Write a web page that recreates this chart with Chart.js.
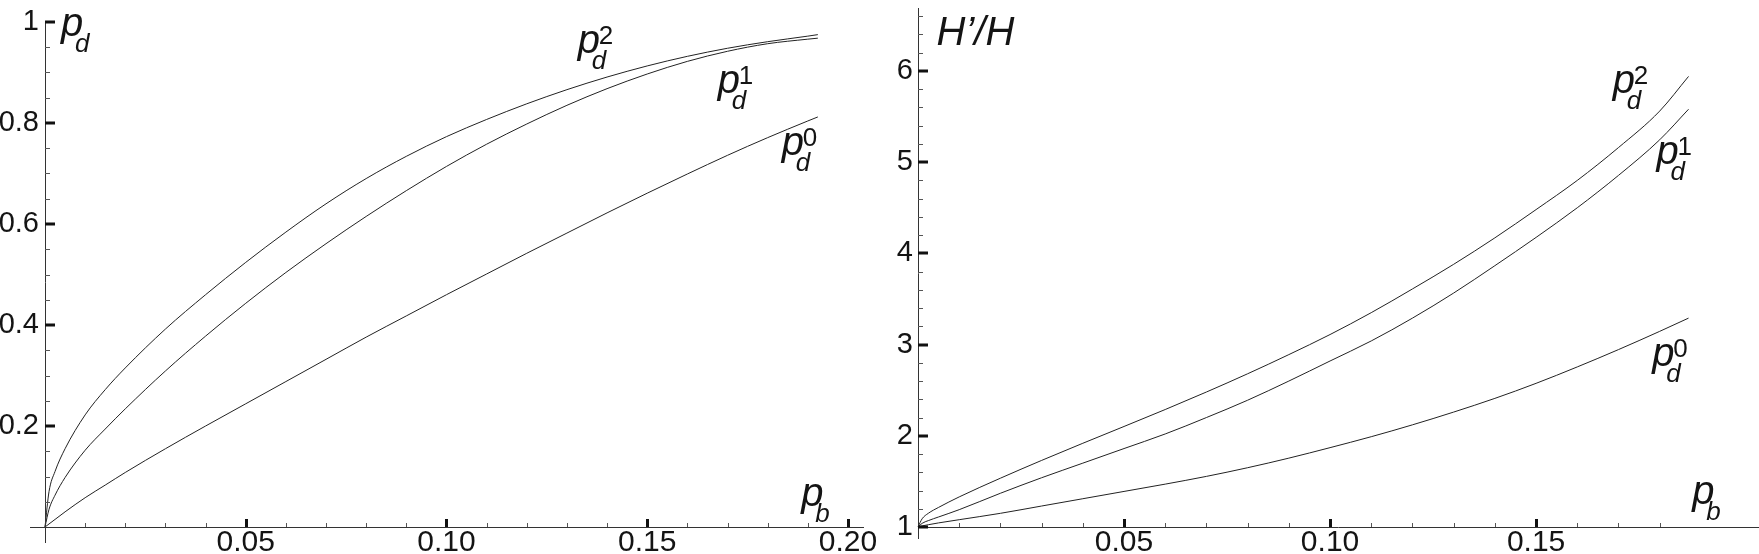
<!DOCTYPE html>
<html>
<head>
<meta charset="utf-8">
<script src="https://cdn.jsdelivr.net/npm/chart.js@4.4.0/dist/chart.umd.min.js"></script>
<style>
  html,body{margin:0;padding:0;background:#fff;}
  #wrap{position:relative;width:1759px;height:554px;overflow:hidden;background:#fff;}
  canvas{position:absolute;top:0;}
  #left{left:0;}
  #right{left:880px;}
</style>
</head>
<body>
<div id="wrap">
  <canvas id="left" width="880" height="554"></canvas>
  <canvas id="right" width="879" height="554"></canvas>
</div>
<script>
// left panel: p_d vs p_b
const pbLeft  = [0, 0.001, 0.0025, 0.005, 0.01, 0.015, 0.02, 0.03, 0.04, 0.05, 0.06, 0.07, 0.08, 0.09, 0.10, 0.11, 0.12, 0.13, 0.14, 0.15, 0.16, 0.17, 0.18, 0.19, 0.1925];
const pd2Left = [0, 0.07, 0.11, 0.155, 0.222, 0.272, 0.315, 0.392, 0.46, 0.524, 0.584, 0.64, 0.69, 0.734, 0.773, 0.807, 0.838, 0.866, 0.891, 0.913, 0.932, 0.948, 0.961, 0.972, 0.975];
const pd1Left = [0, 0.035, 0.063, 0.098, 0.152, 0.194, 0.234, 0.309, 0.378, 0.443, 0.504, 0.561, 0.615, 0.666, 0.714, 0.758, 0.798, 0.835, 0.868, 0.897, 0.922, 0.942, 0.957, 0.966, 0.968];
const pd0Left = [0, 0.006, 0.015, 0.03, 0.058, 0.083, 0.108, 0.155, 0.2, 0.244, 0.288, 0.332, 0.376, 0.418, 0.46, 0.501, 0.542, 0.582, 0.622, 0.661, 0.699, 0.736, 0.771, 0.804, 0.812];
const xTicksLeft  = [0.05, 0.10, 0.15, 0.20];
const xLabelsLeft = ['0.05', '0.10', '0.15', '0.20'];
const yTicksLeft  = [0.2, 0.4, 0.6, 0.8, 1];
const yLabelsLeft = ['0.2', '0.4', '0.6', '0.8', '1'];

// right panel: H'/H vs p_b
const pbRight  = [0, 0.001, 0.0025, 0.005, 0.01, 0.02, 0.03, 0.04, 0.05, 0.06, 0.07, 0.08, 0.09, 0.10, 0.11, 0.12, 0.13, 0.14, 0.15, 0.16, 0.17, 0.18, 0.187];
const hh2Right = [1, 1.09, 1.15, 1.215, 1.33, 1.535, 1.73, 1.918, 2.102, 2.288, 2.48, 2.68, 2.89, 3.11, 3.35, 3.61, 3.88, 4.17, 4.48, 4.80, 5.16, 5.56, 5.94];
const hh1Right = [1, 1.04, 1.07, 1.11, 1.19, 1.37, 1.54, 1.70, 1.86, 2.02, 2.20, 2.39, 2.60, 2.82, 3.04, 3.29, 3.565, 3.865, 4.175, 4.50, 4.855, 5.245, 5.58];
const hh0Right = [1, 1.012, 1.025, 1.045, 1.08, 1.15, 1.23, 1.31, 1.39, 1.47, 1.555, 1.65, 1.755, 1.87, 1.99, 2.12, 2.26, 2.41, 2.575, 2.755, 2.945, 3.145, 3.29];
const xTicksRight  = [0.05, 0.10, 0.15];
const xLabelsRight = ['0.05', '0.10', '0.15'];
const yTicksRight  = [1, 2, 3, 4, 5, 6];
const yLabelsRight = ['1', '2', '3', '4', '5', '6'];

const FONT = '"Liberation Sans", Arial, Helvetica, sans-serif';
const INK = '#141414';

function pts(xs, ys){ return xs.map((x,i) => ({x:x, y:ys[i]})); }

function curve(data){
  return { data:data, borderColor:'#222', borderWidth:1, pointRadius:0, fill:false,
           tension:0.4, cubicInterpolationMode:'monotone', clip:4 };
}

// italic p with subscript / superscript, anchored at baseline-left
function drawSym(ctx, x, y, main, sub, sup){
  ctx.fillStyle = INK; ctx.textAlign = 'left'; ctx.textBaseline = 'alphabetic';
  ctx.font = 'italic 40px ' + FONT;
  ctx.fillText(main, x, y);
  if(sub){ ctx.font = 'italic 26px ' + FONT; ctx.fillText(sub, x+14, y+16); }
  if(sup){ ctx.font = '26px ' + FONT; ctx.fillText(sup, x+21, y-9); }
}

function axesPlugin(o){
  return {
    id: 'axes',
    afterDatasetsDraw(chart){
      const ctx = chart.ctx, xs = chart.scales.x, ys = chart.scales.y;
      const ox = Math.round(xs.getPixelForValue(xs.min)), oy = Math.round(ys.getPixelForValue(ys.min));
      ctx.save();
      ctx.strokeStyle = '#333'; ctx.lineWidth = 1;
      ctx.beginPath();
      ctx.moveTo(ox - o.xExtendLeft, oy + 0.5); ctx.lineTo(xs.right, oy + 0.5);
      ctx.moveTo(ox + 0.5, ys.top); ctx.lineTo(ox + 0.5, oy + o.yExtendDown);
      ctx.stroke();
      // minor ticks
      ctx.strokeStyle = '#555'; ctx.lineWidth = 1;
      ctx.beginPath();
      for(let k = 1; k * o.xMinor <= o.xMinorMax + 1e-9; k++){
        const px = Math.round(xs.getPixelForValue(k * o.xMinor)) + 0.5;
        ctx.moveTo(px, oy); ctx.lineTo(px, oy - 4);
      }
      for(let k = 1; ys.min + k * o.yMinor <= ys.max + 1e-9; k++){
        const py = Math.round(ys.getPixelForValue(ys.min + k * o.yMinor)) + 0.5;
        ctx.moveTo(ox, py); ctx.lineTo(ox + 5, py);
      }
      ctx.stroke();
      // major ticks
      ctx.strokeStyle = '#111'; ctx.lineWidth = 3;
      ctx.beginPath();
      xs.ticks.forEach(t => { const px = Math.round(xs.getPixelForValue(t.value)) + 0.5; ctx.moveTo(px, oy); ctx.lineTo(px, oy - 8); });
      ys.ticks.forEach(t => { const py = Math.round(ys.getPixelForValue(t.value)); ctx.moveTo(ox, py); ctx.lineTo(ox + 10, py); });
      ctx.stroke();
      // curve labels and axis titles
      o.notes.forEach(n => {
        const px = xs.getPixelForValue(n.x), py = ys.getPixelForValue(n.y);
        drawSym(ctx, px, py, n.main, n.sub, n.sup);
      });
      ctx.restore();
    }
  };
}

function makeChart(id, o){
  const fixTicks = (vals) => (s) => { s.ticks = vals.map(v => ({value:v})); };
  return new Chart(document.getElementById(id), {
    type: 'line',
    data: { datasets: o.series.map(curve) },
    options: {
      responsive: false, animation: false,
      layout: { padding: o.padding },
      plugins: { legend:{display:false}, tooltip:{enabled:false} },
      scales: {
        x: {
          type:'linear', min:o.xMin, max:o.xMax,
          grid:{display:false, drawTicks:false}, border:{display:false},
          afterBuildTicks: fixTicks(o.xTicks),
          afterFit: (s) => { s.height = 27; s.paddingLeft = 0; s.paddingRight = 0; },
          ticks:{ autoSkip:false, maxRotation:0, padding:-2, color:INK, font:{family:FONT, size:30},
                  callback:(v) => o.xLabels[o.xTicks.indexOf(v)] }
        },
        y: {
          type:'linear', min:o.yMin, max:o.yMax,
          grid:{display:false, drawTicks:false}, border:{display:false},
          afterBuildTicks: fixTicks(o.yTicks),
          afterFit: (s) => { s.width = o.yWidth; s.paddingTop = 0; s.paddingBottom = 0; },
          ticks:{ autoSkip:false, padding:o.yPad, color:INK, font:{family:FONT, size:29},
                  callback:(v) => o.yLabels[o.yTicks.indexOf(v)] }
        }
      }
    },
    plugins: [axesPlugin(o)]
  });
}

makeChart('left', {
  series: [pts(pbLeft, pd2Left), pts(pbLeft, pd1Left), pts(pbLeft, pd0Left)],
  xMin:0, xMax:0.204, yMin:0, yMax:1,
  xTicks:xTicksLeft, xLabels:xLabelsLeft, yTicks:yTicksLeft, yLabels:yLabelsLeft,
  padding:{left:0, top:22, right:16, bottom:0}, yWidth:45, yPad:6,
  xMinor:0.01, xMinorMax:0.20, yMinor:0.05, xExtendLeft:15, yExtendDown:16,
  notes: [
    {x:0.004, y:0.972, main:'p', sub:'d'},
    {x:0.1884, y:0.0416, main:'p', sub:'b'},
    {x:0.1327, y:0.939, main:'p', sub:'d', sup:'2'},
    {x:0.1676, y:0.859, main:'p', sub:'d', sup:'1'},
    {x:0.1835, y:0.737, main:'p', sub:'d', sup:'0'}
  ]
});

makeChart('right', {
  series: [pts(pbRight, hh2Right), pts(pbRight, hh1Right), pts(pbRight, hh0Right)],
  xMin:0, xMax:0.2041, yMin:1, yMax:6.69,
  xTicks:xTicksRight, xLabels:xLabelsRight, yTicks:yTicksRight, yLabels:yLabelsRight,
  padding:{left:0, top:8, right:0, bottom:0}, yWidth:38, yPad:5,
  xMinor:0.01, xMinorMax:0.18, yMinor:0.2, xExtendLeft:0, yExtendDown:12,
  notes: [
    {x:0.0045, y:6.285, main:'H\u2019/H'},
    {x:0.1879, y:1.247, main:'p', sub:'b'},
    {x:0.1686, y:5.759, main:'p', sub:'d', sup:'2'},
    {x:0.1792, y:4.975, main:'p', sub:'d', sup:'1'},
    {x:0.1782, y:2.765, main:'p', sub:'d', sup:'0'}
  ]
});
</script>
</body>
</html>
